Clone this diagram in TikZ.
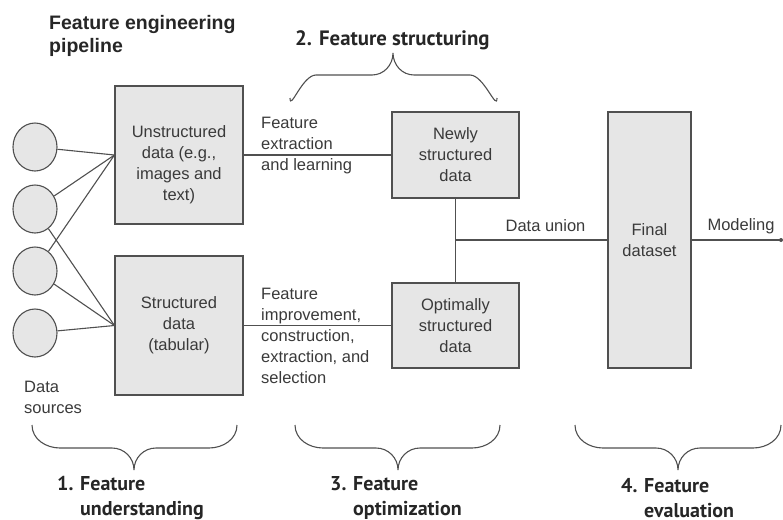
\documentclass[tikz,border=0pt]{standalone}
\usepackage{fontspec}
\setmainfont{Liberation Sans}
\newfontfamily\stagefont{PT Sans}
\usetikzlibrary{shapes.geometric}
\definecolor{boxfill}{HTML}{E6E6E6}
\definecolor{edge}{HTML}{505050}
\definecolor{ink}{HTML}{3A3A3A}
\begin{document}
\begin{tikzpicture}[x=1pt,y=-1pt,
  box/.style={draw=edge, fill=boxfill, line width=1.1pt, inner sep=0pt},
  src/.style={ellipse, draw=edge, fill=boxfill, line width=1.1pt,
    minimum width=44pt, minimum height=48pt, inner sep=0pt},
  txt/.style={text=ink, font=\fontsize{16.5}{21}\selectfont, align=center, inner sep=0pt},
  note/.style={txt, align=left, anchor=west},
  wire/.style={draw=edge, line width=1.1pt},
  brace/.style={draw=edge, line width=1.1pt},
  stage/.style={text=black!85, font=\stagefont\bfseries\fontsize{20}{25}\selectfont,
    align=left, anchor=west, inner sep=0pt}]
\useasboundingbox (0,0) rectangle (783,519);

% title
\node[anchor=west, inner sep=0pt, align=left, text=black!85,
  font=\bfseries\fontsize{19.5}{23}\selectfont] (title) at (49,36)
  {Feature engineering\\pipeline};

% data sources
\node[src] (c1) at (35,147) {};
\node[src] (c2) at (35,209) {};
\node[src] (c3) at (35,271) {};
\node[src] (c4) at (35,333) {};
\node[note] (srclab) at (24,397) {Data\\sources};

% first-stage boxes
\node[box, minimum width=128pt, minimum height=138pt] (U) at (179,155) {};
\node[txt] (Ut) at (179,165) {Unstructured\\data (e.g.,\\images and\\text)};
\node[box, txt, minimum width=128pt, minimum height=139pt] (S) at (179,325.5)
  {Structured\\data\\(tabular)};

\foreach \c in {c1,c2,c3} \draw[wire] (\c) -- (U.west);
\foreach \c in {c2,c3,c4} \draw[wire] (\c) -- (S.west);

% structured outputs
\node[box, minimum width=127pt, minimum height=86pt, txt] (N) at (455.5,155)
  {Newly\\structured\\data};
\node[box, minimum width=127pt, minimum height=85pt, txt] (O) at (455.5,325.5)
  {Optimally\\structured\\data};
\node[box, minimum width=83pt, minimum height=256pt, txt] (F) at (649.5,240)
  {Final\\dataset};

\draw[wire] (U.east) -- (N.west);
\draw[wire] (S.east) -- (O.west);
\draw[wire] (N.south) -- (O.north);
\coordinate (J) at (455.5,240);
\draw[wire] (J) -- (F.west);
\coordinate (M) at (781,240);
\draw[wire] (F.east) -- (M);
\fill[edge] (M) circle (2pt);

\node[note] (lab1) at (261,146) {Feature\\extraction\\and learning};
\node[note] (lab2) at (261,335.5) {Feature\\improvement,\\construction,\\extraction, and\\selection};
\node[txt] (lab3) at (545.5,226) {Data union};
\node[txt] (lab4) at (741,226) {Modeling};

% braces
\draw[brace] (290,98) to[out=-90,in=180] (316,75) -- (372,75)
  to[out=0,in=-90] (393,53) to[out=-90,in=180] (414,75) -- (470,75)
  to[out=0,in=-90] (497,98);
\draw[brace] (32,425) to[out=-90,in=180] (60,448) -- (112,448)
  to[out=0,in=90] (134,470) to[out=90,in=180] (156,448) -- (209,448)
  to[out=0,in=-90] (237,425);
\draw[brace] (295,425) to[out=-90,in=180] (323,448) -- (376,448)
  to[out=0,in=90] (398,470) to[out=90,in=180] (420,448) -- (472,448)
  to[out=0,in=-90] (500,425);
\draw[brace] (575,425) to[out=-90,in=180] (603,448) -- (656,448)
  to[out=0,in=90] (678,470) to[out=90,in=180] (700,448) -- (753,448)
  to[out=0,in=-90] (781,425);

% stage labels
\node[stage, font=\stagefont\bfseries\fontsize{20.8}{25}\selectfont] (st2) at (295,40) {2. Feature structuring};
\node[stage] (st1) at (57,498) {1. Feature\\\hphantom{1. }understanding};
\node[stage] (st3) at (330,498) {3. Feature\\\hphantom{3. }optimization};
\node[stage] (st4) at (621,498) {4. Feature\\\hphantom{4. }evaluation};
\end{tikzpicture}
\end{document}
